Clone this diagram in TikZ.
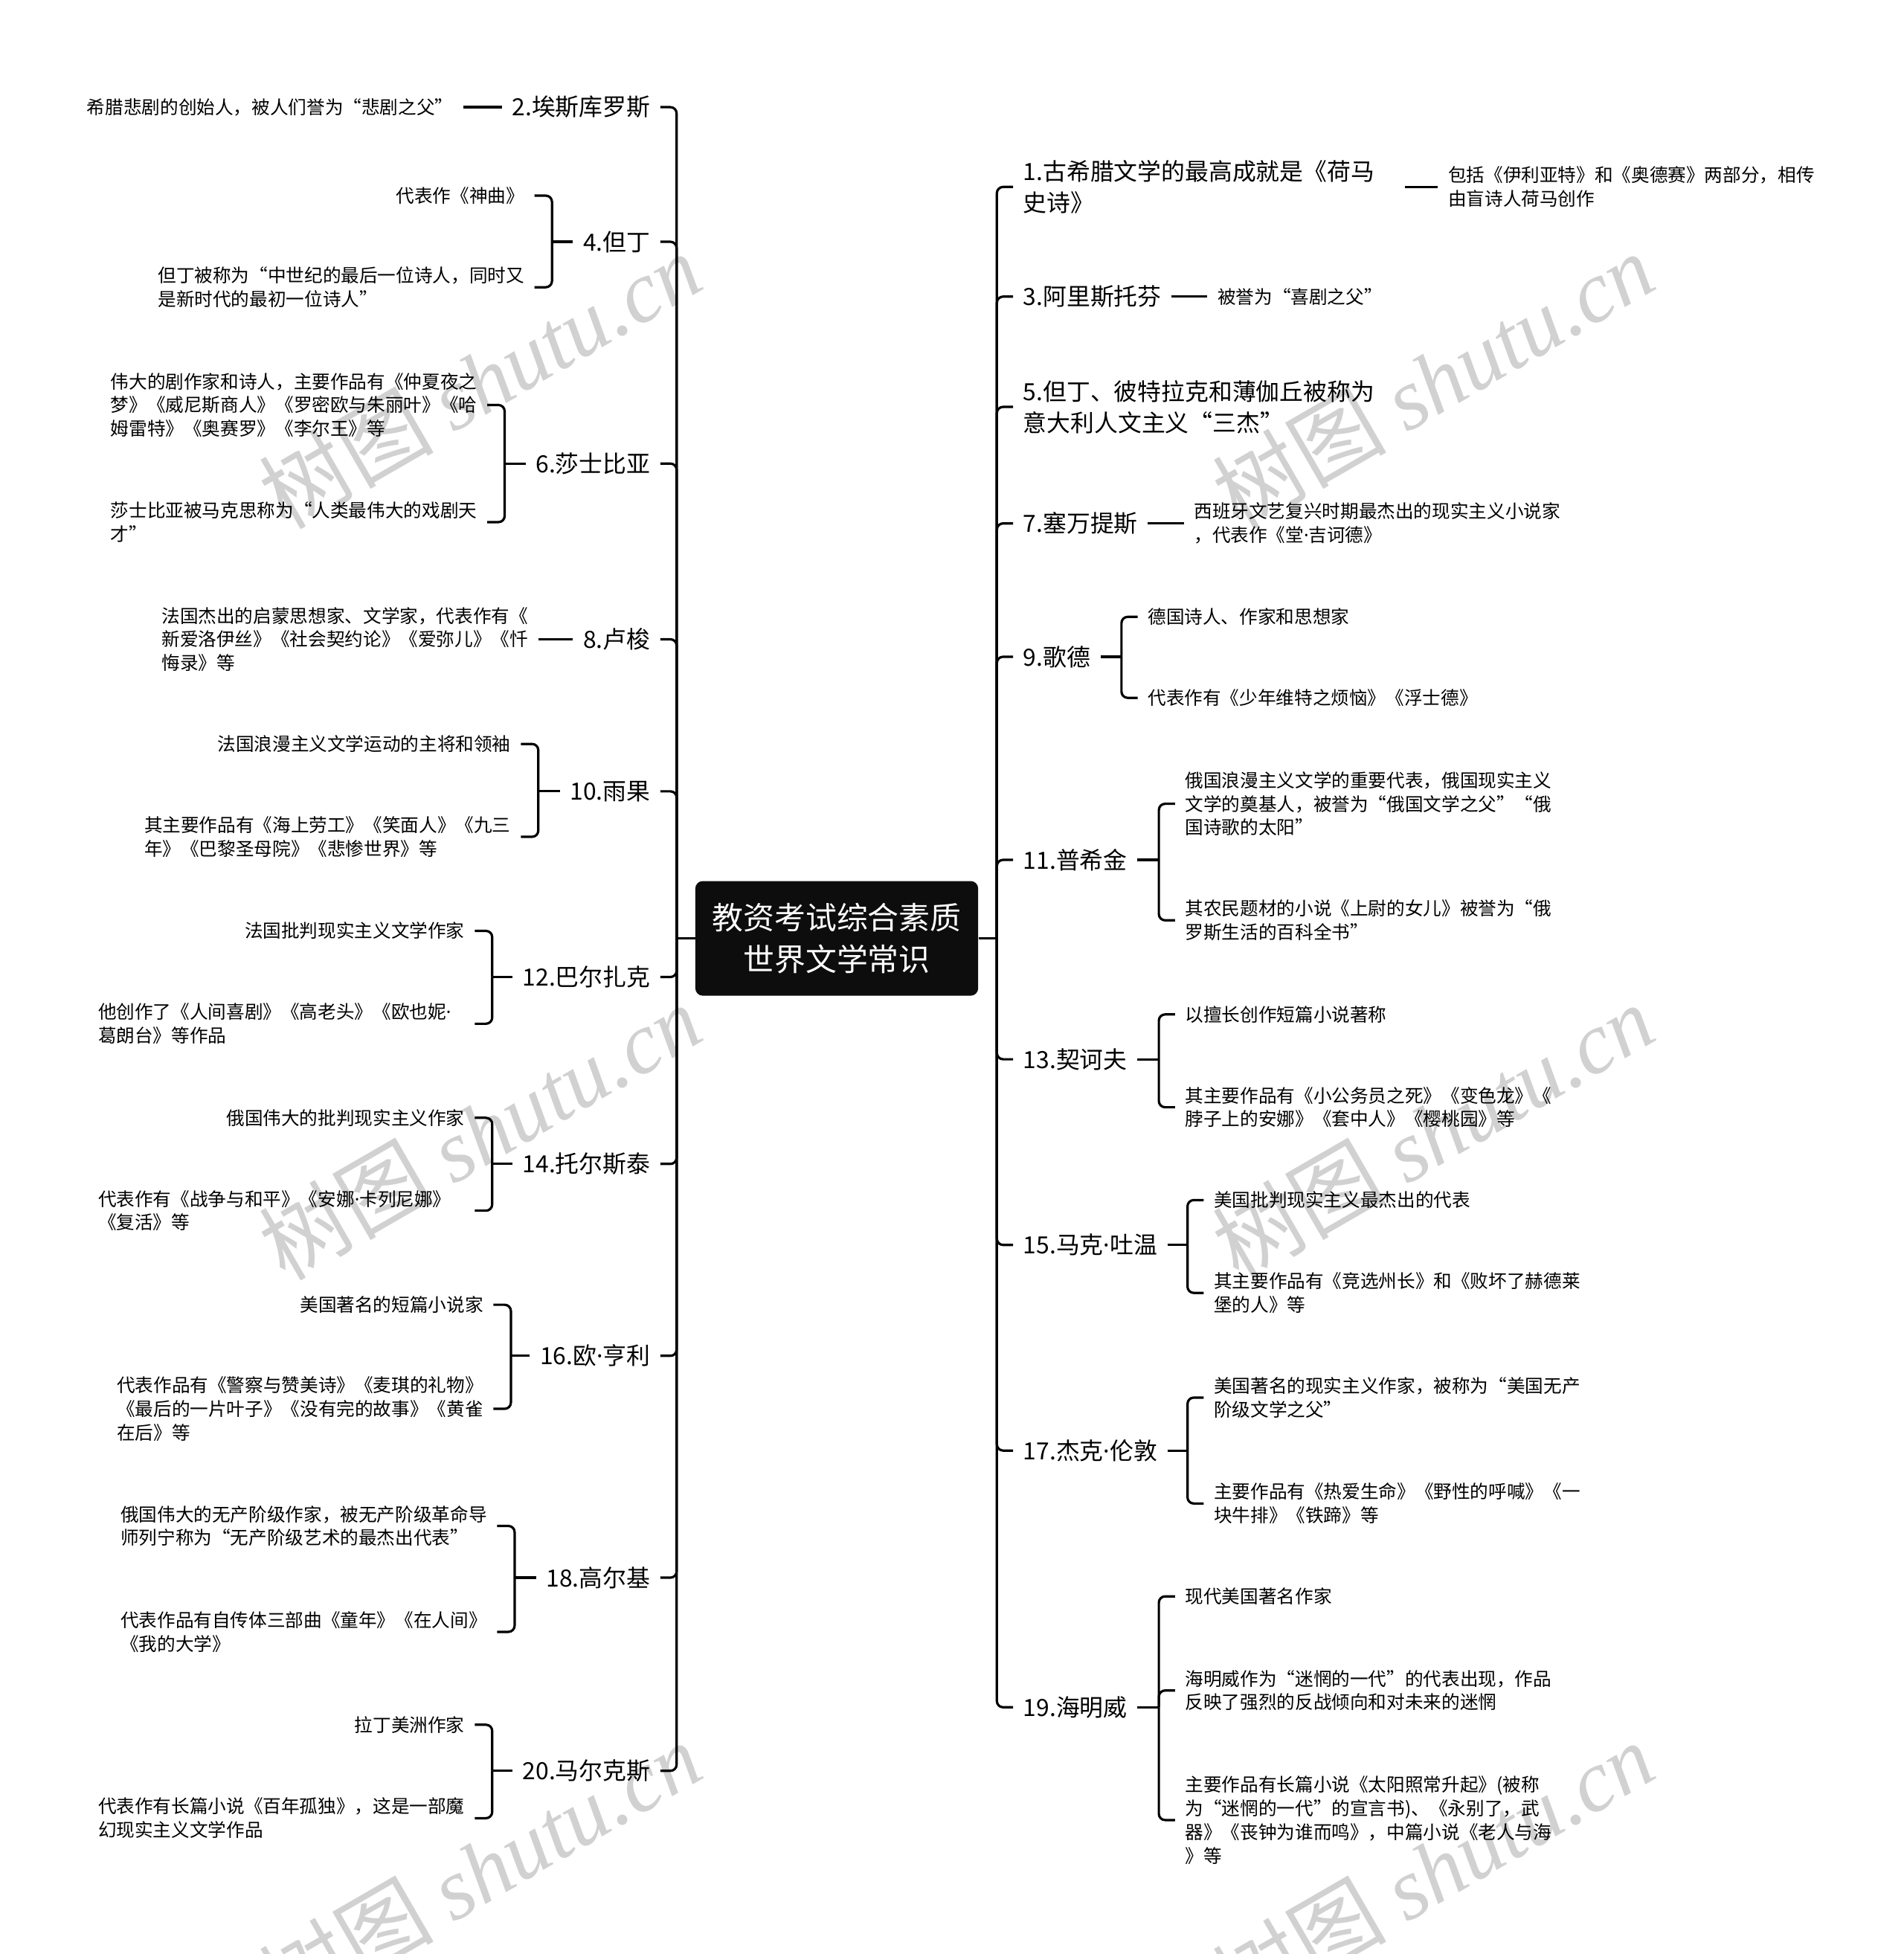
\documentclass[tikz,border=0pt]{standalone}
\usepackage{fontspec}
\setmainfont{Noto Sans CJK SC}
\newfontfamily\wmlat{Liberation Serif}
\newfontfamily\dotfont{Noto Sans}
\newcommand\mydot{{\dotfont ·}}
\begin{document}
\begin{tikzpicture}[x=1pt,y=-1pt]
\tikzset{
  lbl/.style={font=\fontsize{19}{25}\selectfont, inner xsep=8pt, inner ysep=2pt, align=left},
  lbll/.style={lbl, anchor=east},
  lblr/.style={lbl, anchor=west},
  leaf/.style={font=\fontsize{14.7}{19}\selectfont, inner xsep=8pt, inner ysep=2pt, align=left},
  leafl/.style={leaf, anchor=east},
  leafr/.style={leaf, anchor=west},
  conn/.style={line width=1.9pt, rounded corners=5pt, black},
  wm/.style={font=\fontsize{70}{70}\selectfont, text=black!18, rotate=30, inner sep=0pt},
  rootbox/.style={fill=black!95, rounded corners=6pt, minimum width=227pt, minimum height=92pt, text=white, font=\fontsize{25}{33}\selectfont, align=center, inner sep=0pt}
}
\fill[white] (0,0) rectangle (1528,1568);
\useasboundingbox (0,0) rectangle (1528,1568);

% watermarks
\node[wm] (w1) at (385,305) {树图 {\wmlat\itshape shutu.cn}};
\node[wm] (w2) at (385,908) {树图 {\wmlat\itshape shutu.cn}};
\node[wm] (w3) at (385,1500) {树图 {\wmlat\itshape shutu.cn}};
\node[wm] (w4) at (1150,305) {树图 {\wmlat\itshape shutu.cn}};
\node[wm] (w5) at (1150,908) {树图 {\wmlat\itshape shutu.cn}};
\node[wm] (w6) at (1150,1500) {树图 {\wmlat\itshape shutu.cn}};

% root
\node[rootbox] (root) at (671.5,753) {教资考试综合素质\\世界文学常识};
\coordinate (LT) at (543,753);
\coordinate (RT) at (800,753);

% ---------- left side ----------
\node[lbll] (b2) at (530,86) {2.埃斯库罗斯};
\node[leafl] (c2) at (372,86) {希腊悲剧的创始人，被人们誉为“悲剧之父”};

\node[lbll] (b4) at (530,194) {4.但丁};
\coordinate (j4) at (443,194);
\node[leafl] (c4a) at (429,157) {代表作《神曲》};
\node[leafl] (c4b) at (429,230.5) {但丁被称为“中世纪的最后一位诗人，同时又\\是新时代的最初一位诗人”};

\node[lbll] (b6) at (530,372) {6.莎士比亚};
\coordinate (j6) at (405,372);
\node[leafl] (c6a) at (391,325) {伟大的剧作家和诗人，主要作品有《仲夏夜之\\梦》《威尼斯商人》《罗密欧与朱丽叶》《哈\\姆雷特》《奥赛罗》《李尔王》等};
\node[leafl] (c6b) at (391,419) {莎士比亚被马克思称为“人类最伟大的戏剧天\\才”};

\node[lbll] (b8) at (530,513) {8.卢梭};
\node[leafl] (c8) at (432,513) {法国杰出的启蒙思想家、文学家，代表作有《\\新爱洛伊丝》《社会契约论》《爱弥儿》《忏\\悔录》等};

\node[lbll] (b10) at (530,635) {10.雨果};
\coordinate (j10) at (432,635);
\node[leafl] (c10a) at (418,597) {法国浪漫主义文学运动的主将和领袖};
\node[leafl] (c10b) at (418,671.5) {其主要作品有《海上劳工》《笑面人》《九三\\年》《巴黎圣母院》《悲惨世界》等};

\node[lbll] (b12) at (530,784) {12.巴尔扎克};
\coordinate (j12) at (395,784);
\node[leafl] (c12a) at (381,747) {法国批判现实主义文学作家};
\node[leafl, text width=294pt] (c12b) at (381,821.5) {他创作了《人间喜剧》《高老头》《欧也妮\mydot\\葛朗台》等作品};

\node[lbll] (b14) at (530,934) {14.托尔斯泰};
\coordinate (j14) at (395,934);
\node[leafl] (c14a) at (381,897) {俄国伟大的批判现实主义作家};
\node[leafl, text width=294pt] (c14b) at (381,971.5) {代表作有《战争与和平》《安娜\mydot 卡列尼娜》\\《复活》等};

\node[lbll] (b16) at (530,1088) {16.欧\mydot 亨利};
\coordinate (j16) at (410,1088);
\node[leafl] (c16a) at (396,1047) {美国著名的短篇小说家};
\node[leafl] (c16b) at (396,1130.5) {代表作品有《警察与赞美诗》《麦琪的礼物》\\《最后的一片叶子》《没有完的故事》《黄雀\\在后》等};

\node[lbll] (b18) at (530,1266) {18.高尔基};
\coordinate (j18) at (413,1266);
\node[leafl] (c18a) at (399,1224.5) {俄国伟大的无产阶级作家，被无产阶级革命导\\师列宁称为“无产阶级艺术的最杰出代表”};
\node[leafl] (c18b) at (399,1309.5) {代表作品有自传体三部曲《童年》《在人间》\\《我的大学》};

\node[lbll] (b20) at (530,1421) {20.马尔克斯};
\coordinate (j20) at (395,1421);
\node[leafl] (c20a) at (381,1384) {拉丁美洲作家};
\node[leafl] (c20b) at (381,1459) {代表作有长篇小说《百年孤独》，这是一部魔\\幻现实主义文学作品};

% ---------- right side ----------
\node[lblr, text width=298pt] (b1) at (813,150) {1.古希腊文学的最高成就是《荷马\\史诗》};
\node[leafr] (c1) at (1154,150) {包括《伊利亚特》和《奥德赛》两部分，相传\\由盲诗人荷马创作};

\node[lblr] (b3) at (813,238) {3.阿里斯托芬};
\node[leafr] (c3) at (969,238) {被誉为“喜剧之父”};

\node[lblr] (b5) at (813,326.5) {5.但丁、彼特拉克和薄伽丘被称为\\意大利人文主义“三杰”};

\node[lblr] (b7) at (813,420) {7.塞万提斯};
\node[leafr] (c7) at (950,420) {西班牙文艺复兴时期最杰出的现实主义小说家\\，代表作《堂\mydot 吉诃德》};

\node[lblr] (b9) at (813,527) {9.歌德};
\coordinate (j9) at (900,527);
\node[leafr] (c9a) at (913,495) {德国诗人、作家和思想家};
\node[leafr] (c9b) at (913,560) {代表作有《少年维特之烦恼》《浮士德》};

\node[lblr] (b11) at (813,690) {11.普希金};
\coordinate (j11) at (930,690);
\node[leafr] (c11a) at (943,645) {俄国浪漫主义文学的重要代表，俄国现实主义\\文学的奠基人，被誉为“俄国文学之父”“俄\\国诗歌的太阳”};
\node[leafr] (c11b) at (943,738.5) {其农民题材的小说《上尉的女儿》被誉为“俄\\罗斯生活的百科全书”};

\node[lblr] (b13) at (813,850) {13.契诃夫};
\coordinate (j13) at (930,850);
\node[leafr] (c13a) at (943,814) {以擅长创作短篇小说著称};
\node[leafr] (c13b) at (943,888.5) {其主要作品有《小公务员之死》《变色龙》《\\脖子上的安娜》《套中人》《樱桃园》等};

\node[lblr] (b15) at (813,999) {15.马克\mydot 吐温};
\coordinate (j15) at (953,999);
\node[leafr] (c15a) at (966,963) {美国批判现实主义最杰出的代表};
\node[leafr] (c15b) at (966,1037.5) {其主要作品有《竞选州长》和《败坏了赫德莱\\堡的人》等};

\node[lblr] (b17) at (813,1164) {17.杰克\mydot 伦敦};
\coordinate (j17) at (953,1164);
\node[leafr] (c17a) at (966,1121.5) {美国著名的现实主义作家，被称为“美国无产\\阶级文学之父”};
\node[leafr] (c17b) at (966,1206.5) {主要作品有《热爱生命》《野性的呼喊》《一\\块牛排》《铁蹄》等};

\node[lblr] (b19) at (813,1370) {19.海明威};
\coordinate (j19) at (930,1370);
\node[leafr] (c19a) at (943,1281) {现代美国著名作家};
\node[leafr] (c19b) at (943,1356.5) {海明威作为“迷惘的一代”的代表出现，作品\\反映了强烈的反战倾向和对未来的迷惘};
\node[leafr] (c19c) at (943,1460.5) {主要作品有长篇小说《太阳照常升起》(被称\\为“迷惘的一代”的宣言书)、《永别了，武\\器》《丧钟为谁而鸣》，中篇小说《老人与海\\》等};

% ---------- connectors ----------
\draw[conn] (root.west) -- (LT);
\draw[conn] (root.east) -- (RT);
\foreach \b in {b2,b4,b6,b8,b10,b12,b14,b16,b18,b20}
  \draw[conn] (LT) |- (\b.east);
\foreach \b in {b1,b3,b5,b7,b9,b11,b13,b15,b17,b19}
  \draw[conn] (RT) |- (\b.west);

% single leaves
\draw[conn] (b2.west) -- (c2.east);
\draw[conn] (b8.west) -- (c8.east);
\draw[conn] (b1.east) -- (c1.west);
\draw[conn] (b3.east) -- (c3.west);
\draw[conn] (b7.east) -- (c7.west);

% left brackets
\foreach \p/\j/\cs in {b4/j4/{c4a,c4b}, b6/j6/{c6a,c6b}, b10/j10/{c10a,c10b}, b12/j12/{c12a,c12b}, b14/j14/{c14a,c14b}, b16/j16/{c16a,c16b}, b18/j18/{c18a,c18b}, b20/j20/{c20a,c20b}}{
  \draw[conn] (\p.west) -- (\j);
  \foreach \c in \cs { \draw[conn] (\j) |- (\c.east); }
}
% right brackets
\foreach \p/\j/\cs in {b9/j9/{c9a,c9b}, b11/j11/{c11a,c11b}, b13/j13/{c13a,c13b}, b15/j15/{c15a,c15b}, b17/j17/{c17a,c17b}, b19/j19/{c19a,c19b,c19c}}{
  \draw[conn] (\p.east) -- (\j);
  \foreach \c in \cs { \draw[conn] (\j) |- (\c.west); }
}
\end{tikzpicture}
\end{document}
